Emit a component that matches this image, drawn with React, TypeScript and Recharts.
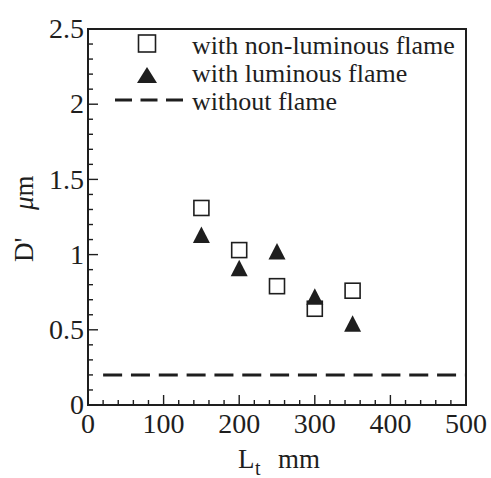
import React from 'react';
import {
  ScatterChart,
  Scatter,
  XAxis,
  YAxis,
  ReferenceLine,
  ReferenceArea,
  Legend,
} from 'recharts';

const INK = '#1e1e1e';
const FONT = 'Liberation Serif';

// L_t (mm) at which D' was measured
const lengths = [150, 200, 250, 300, 350];
const nonLuminous = [1.31, 1.03, 0.79, 0.64, 0.76];
const luminous = [1.13, 0.91, 1.02, 0.72, 0.54];
const withoutFlame = 0.2;
const withoutFlameStart = 20;

const xTicks = [0, 20, 40, 60, 80, 100, 120, 140, 160, 180, 200, 220, 240, 260, 280, 300, 320, 340, 360, 380, 400, 420, 440, 460, 480, 500];
const xLabels = [0, 100, 200, 300, 400, 500];
const yTicks = [0, 0.1, 0.2, 0.3, 0.4, 0.5, 0.6, 0.7, 0.8, 0.9, 1, 1.1, 1.2, 1.3, 1.4, 1.5, 1.6, 1.7, 1.8, 1.9, 2, 2.1, 2.2, 2.3, 2.4, 2.5];
const yLabels = [0, 0.5, 1, 1.5, 2, 2.5];
const legendLabels = ['with non-luminous flame', 'with luminous flame', 'without flame'];

const nonLuminousData = lengths.map((x, i) => ({ x, y: nonLuminous[i] }));
const luminousData = lengths.map((x, i) => ({ x, y: luminous[i] }));

const XTick = (props: any) => {
  const { x, y, payload } = props;
  const major = xLabels.includes(payload.value);
  return (
    <g>
      <line x1={x} x2={x} y1={y} y2={y - (major ? 10 : 5)} stroke={INK} strokeWidth={1.4} />
      {major && (
        <text x={x} y={y + 28} textAnchor="middle" fontSize={28} fontFamily={FONT} fill={INK}>
          {payload.value}
        </text>
      )}
    </g>
  );
};

const YTick = (props: any) => {
  const { x, y, payload } = props;
  const major = yLabels.includes(payload.value);
  return (
    <g>
      <line x1={x} x2={x + (major ? 10 : 5)} y1={y} y2={y} stroke={INK} strokeWidth={1.4} />
      {major && (
        <text x={x - 4} y={y} dy="0.33em" textAnchor="end" fontSize={28} fontFamily={FONT} fill={INK}>
          {payload.value}
        </text>
      )}
    </g>
  );
};

const SquareMark = (props: any) => (
  <rect x={props.cx - 7.5} y={props.cy - 7.5} width={15} height={15} fill="#fff" stroke={INK} strokeWidth={1.6} />
);

const TriangleMark = (props: any) => {
  const { cx, cy } = props;
  return <polygon points={`${cx},${cy - 8.5} ${cx - 8.5},${cy + 8} ${cx + 8.5},${cy + 8}`} fill={INK} />;
};

const renderLegend = () => (
  <svg width={491} height={120} style={{ display: 'block' }}>
    <rect x={138.5} y={35} width={17} height={17} fill="#fff" stroke={INK} strokeWidth={1.6} />
    <polygon points="147,67 137,83 157,83" fill={INK} />
    <line x1={115} x2={183} y1={100} y2={100} stroke={INK} strokeWidth={3} strokeDasharray="17 8.5" />
    {legendLabels.map((t, i) => (
      <text key={t} x={192} y={54 + i * 28} fontSize={26} fontFamily={FONT} fill={INK}>
        {t}
      </text>
    ))}
  </svg>
);

const XLabel = () => (
  <text y={468} fontFamily={FONT} fill={INK} fontSize={27}>
    <tspan x={238}>L</tspan>
    <tspan x={255} y={475} fontSize={20}>t</tspan>
    <tspan x={278} y={468}>mm</tspan>
  </text>
);

const YLabel = () => (
  <text transform="translate(33,262) rotate(-90)" fontFamily={FONT} fill={INK} fontSize={27}>
    <tspan x={0}>D'</tspan>
    <tspan x={52} fontStyle="italic">μ</tspan>
    <tspan>m</tspan>
  </text>
);

export default function App() {
  return (
    <div style={{ position: 'absolute', left: 0, top: 0, width: 491, height: 478, background: '#fff' }}>
      <ScatterChart width={491} height={478} margin={{ top: 29, right: 25, bottom: 0, left: 0 }}>
        <XAxis
          type="number"
          dataKey="x"
          domain={[0, 500]}
          ticks={xTicks}
          interval={0}
          height={73}
          axisLine={false}
          tickLine={false}
          tickSize={0}
          tickMargin={0}
          tick={<XTick />}
          label={<XLabel />}
        />
        <YAxis
          type="number"
          dataKey="y"
          domain={[0, 2.5]}
          ticks={yTicks}
          interval={0}
          width={88}
          axisLine={false}
          tickLine={false}
          tickSize={0}
          tickMargin={0}
          tick={<YTick />}
          label={<YLabel />}
        />
        <ReferenceArea x1={0} x2={500} y1={0} y2={2.5} fill="none" fillOpacity={0} stroke={INK} strokeWidth={2} />
        <ReferenceLine
          segment={[{ x: withoutFlameStart, y: withoutFlame }, { x: 500, y: withoutFlame }]}
          stroke={INK}
          strokeWidth={3}
          strokeDasharray="19 8.83"
        />
        <Scatter data={nonLuminousData} shape={<SquareMark />} isAnimationActive={false} />
        <Scatter data={luminousData} shape={<TriangleMark />} isAnimationActive={false} />
        <Legend
          content={renderLegend}
          layout="horizontal"
          verticalAlign="middle"
          align="center"
          wrapperStyle={{ position: 'absolute', top: 0, left: 0, width: 491, height: 120, pointerEvents: 'none' }}
        />
      </ScatterChart>
    </div>
  );
}
